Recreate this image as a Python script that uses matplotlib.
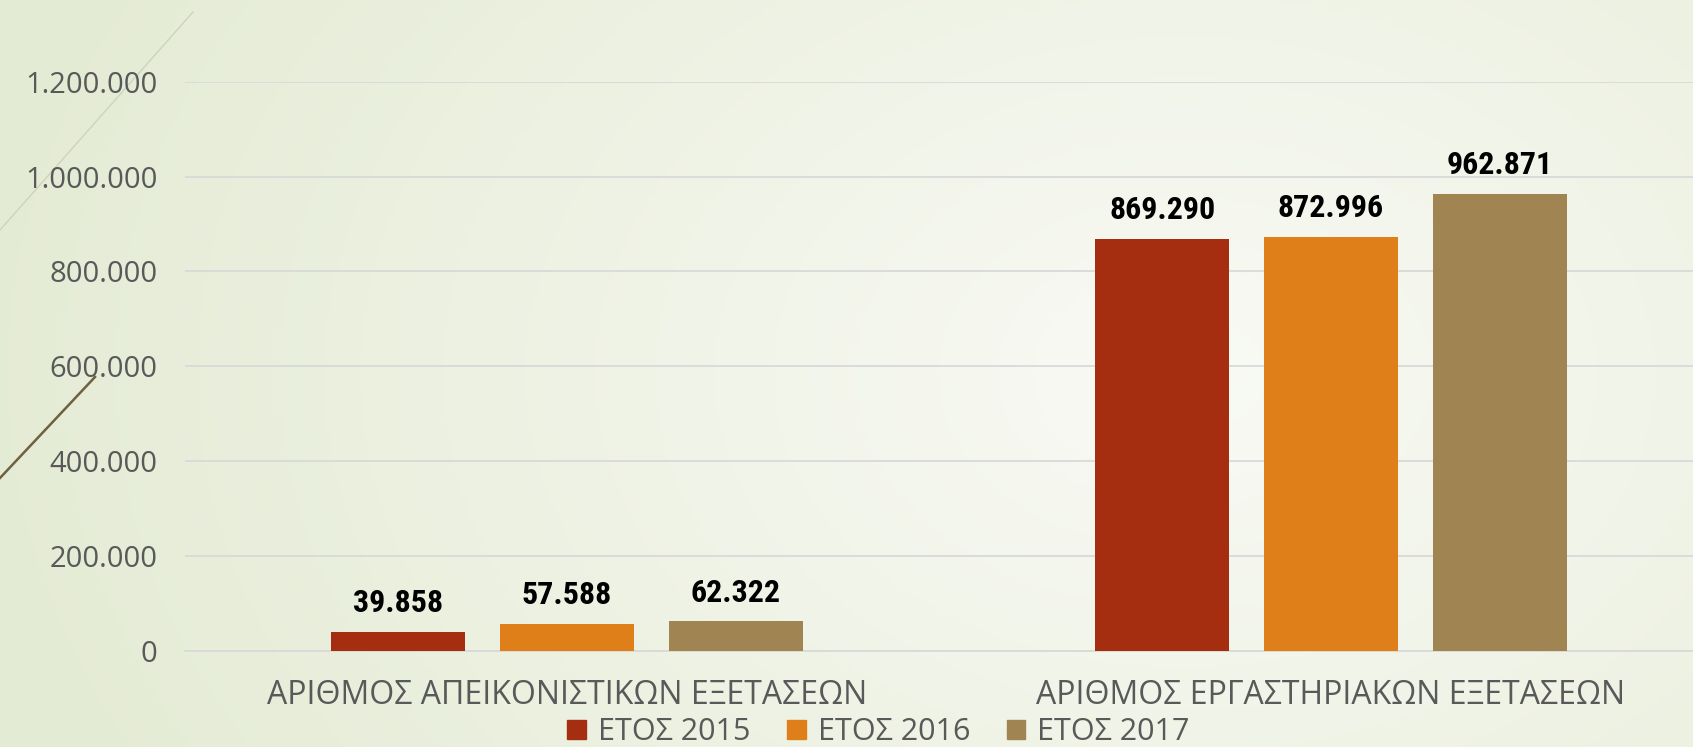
import numpy as np
import matplotlib.pyplot as plt
import matplotlib
from matplotlib.patches import Patch
from matplotlib.lines import Line2D

matplotlib.rcParams['font.family'] = ['Open Sans', 'DejaVu Sans']

categories = ['ΑΡΙΘΜΟΣ ΑΠΕΙΚΟΝΙΣΤΙΚΩΝ ΕΞΕΤΑΣΕΩΝ', 'ΑΡΙΘΜΟΣ ΕΡΓΑΣΤΗΡΙΑΚΩΝ ΕΞΕΤΑΣΕΩΝ']
series_names = ['ΕΤΟΣ 2015', 'ΕΤΟΣ 2016', 'ΕΤΟΣ 2017']
values_2015 = [39858, 869290]
values_2016 = [57588, 872996]
values_2017 = [62322, 962871]
colors = ['#A52D10', '#DE7F1A', '#A08452']
yticks = [0, 200000, 400000, 600000, 800000, 1000000, 1200000]


def dots(v):
    return f'{int(v):,}'.replace(',', '.')


fig = plt.figure(figsize=(16.93, 7.47), dpi=100)

# background gradient
bg = fig.add_axes([0, 0, 1, 1], zorder=-10)
gx, gy = np.meshgrid(np.linspace(0, 1, 400), np.linspace(0, 1, 200))
d = np.sqrt(((gx - 0.7) * 1.3) ** 2 + ((gy - 0.5) * 0.8) ** 2)
d = np.clip(d / 0.95, 0, 1)
c0 = np.array([249, 250, 245]) / 255
c1 = np.array([228, 235, 212]) / 255
img = c0[None, None, :] * (1 - d[..., None]) + c1[None, None, :] * d[..., None]
bg.imshow(img, extent=[0, 1, 0, 1], aspect='auto', origin='upper')
bg.set_xlim(0, 1)
bg.set_ylim(0, 1)
bg.axis('off')
# decorative lines
bg.add_line(Line2D([0, 193 / 1693], [1 - 230 / 747, 1 - 12 / 747], color='#cfd2c0', lw=1.0))
bg.add_line(Line2D([0, 95 / 1693], [1 - 478 / 747, 1 - 377 / 747], color='#6e6040', lw=1.8))

ax = fig.add_axes([185 / 1693, 1 - 651 / 747, 1 - 185 / 1693, (651 - 81.7) / 747])
ax.patch.set_alpha(0)

x = np.arange(len(categories))
w = 0.175
step = 0.221
for i, (vals, name) in enumerate(zip([values_2015, values_2016, values_2017], series_names)):
    bars = ax.bar(x + (i - 1) * step, vals, width=w, color=colors[i], label=name, zorder=3)
    ax.bar_label(bars, labels=[dots(v) for v in vals], padding=10,
                 fontsize=23, fontweight='bold', family=['Roboto Condensed', 'Roboto', 'DejaVu Sans'],
                 color='black')

ax.set_xlim(-0.5, -0.5 + 1508 / 764)
ax.set_ylim(0, 1200000)
ax.set_yticks(yticks)
ax.set_yticklabels([dots(v) for v in yticks], fontsize=21, color='#595959')
ax.set_xticks(x)
ax.set_xticklabels(categories, fontsize=23, color='#595959')
ax.tick_params(axis='y', length=0, pad=20)
ax.tick_params(axis='x', length=0, pad=20)
ax.grid(axis='y', color='#d9d9d9', lw=1.3, zorder=0)
for s in ['top', 'right', 'left']:
    ax.spines[s].set_visible(False)
ax.spines['bottom'].set_color('#d9d9d9')
ax.spines['bottom'].set_linewidth(1.3)

handles = [Patch(color=c) for c in colors]
fig.legend(handles, series_names, loc='center', bbox_to_anchor=(0.519, 1 - 732 / 747),
           ncol=3, frameon=False, fontsize=22, handlelength=0.6, handleheight=0.6,
           handletextpad=0.4, columnspacing=1.2, labelcolor='#595959')

fig.savefig('out.png', dpi=100)
